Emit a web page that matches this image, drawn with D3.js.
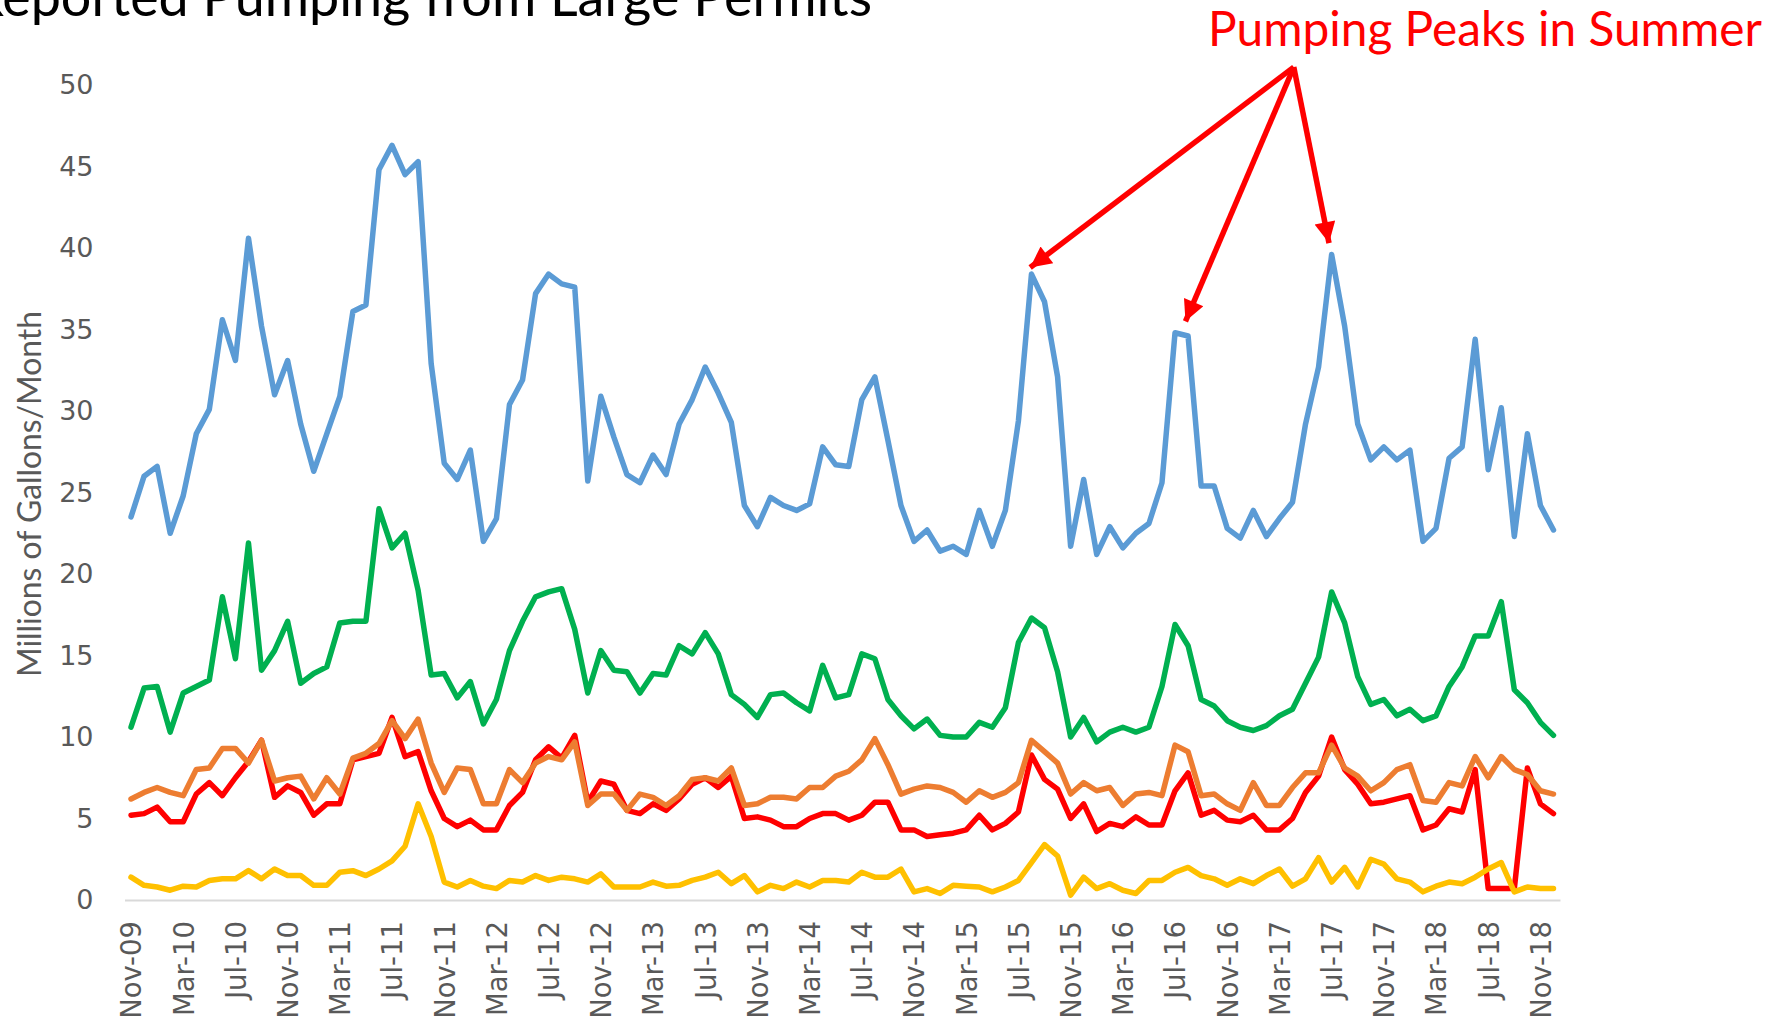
<!DOCTYPE html>
<html>
<head>
<meta charset="utf-8">
<script src="https://cdn.jsdelivr.net/npm/d3@7"></script>
<style>
  body { margin: 0; background: #fff; }
  svg { display: block; }
</style>
</head>
<body>
<svg id="chart" width="1775" height="1027"></svg>
<script>
// months Nov-09 .. Dec-18 (110 categories)
const months = d3.timeMonths(new Date(2009, 10, 1), new Date(2019, 0, 1));
const tickEvery = 4;
const yTicks = [0, 5, 10, 15, 20, 25, 30, 35, 40, 45, 50];

const blueSeries = [23.5,26.0,26.6,22.5,24.8,28.6,30.1,35.6,33.1,40.6,
  35.2,31.0,33.1,29.2,26.3,28.6,30.9,36.1,36.5,44.8,
  46.3,44.5,45.3,32.9,26.8,25.8,27.6,22.0,23.4,30.4,
  31.9,37.2,38.4,37.8,37.6,25.7,30.9,28.4,26.1,25.6,
  27.3,26.1,29.2,30.7,32.7,31.1,29.3,24.2,22.9,24.7,
  24.2,23.9,24.3,27.8,26.7,26.6,30.7,32.1,28.2,24.2,
  22.0,22.7,21.4,21.7,21.2,23.9,21.7,23.9,29.4,38.4,
  36.7,32.1,21.7,25.8,21.2,22.9,21.6,22.5,23.1,25.6,
  34.8,34.6,25.4,25.4,22.8,22.2,23.9,22.3,23.4,24.4,
  29.2,32.7,39.6,35.2,29.2,27.0,27.8,27.0,27.6,22.0,
  22.8,27.1,27.8,34.4,26.4,30.2,22.3,28.6,24.2,22.7];

const greenSeries = [10.6,13.0,13.1,10.3,12.7,13.1,13.5,18.6,14.8,21.9,
  14.1,15.3,17.1,13.3,13.9,14.3,17.0,17.1,17.1,24.0,
  21.6,22.5,19.0,13.8,13.9,12.4,13.4,10.8,12.3,15.3,
  17.1,18.6,18.9,19.1,16.6,12.7,15.3,14.1,14.0,12.7,
  13.9,13.8,15.6,15.1,16.4,15.1,12.6,12.0,11.2,12.6,
  12.7,12.1,11.6,14.4,12.4,12.6,15.1,14.8,12.3,11.3,
  10.5,11.1,10.1,10.0,10.0,10.9,10.6,11.8,15.8,17.3,
  16.7,14.0,10.0,11.2,9.7,10.3,10.6,10.3,10.6,13.1,
  16.9,15.6,12.3,11.9,11.0,10.6,10.4,10.7,11.3,11.7,
  13.3,14.9,18.9,17.0,13.7,12.0,12.3,11.3,11.7,11.0,
  11.3,13.1,14.3,16.2,16.2,18.3,12.9,12.1,10.9,10.1];

const redSeries = [5.2,5.3,5.7,4.8,4.8,6.5,7.2,6.4,7.5,8.5,
  9.8,6.3,7.0,6.6,5.2,5.9,5.9,8.6,8.8,9.0,
  11.2,8.8,9.1,6.7,5.0,4.5,4.9,4.3,4.3,5.8,
  6.6,8.6,9.4,8.7,10.1,6.0,7.3,7.1,5.5,5.3,
  5.9,5.5,6.2,7.1,7.5,6.9,7.6,5.0,5.1,4.9,
  4.5,4.5,5.0,5.3,5.3,4.9,5.2,6.0,6.0,4.3,
  4.3,3.9,4.0,4.1,4.3,5.2,4.3,4.7,5.4,8.9,
  7.4,6.8,5.0,5.9,4.2,4.7,4.5,5.1,4.6,4.6,
  6.7,7.8,5.2,5.5,4.9,4.8,5.2,4.3,4.3,5.0,
  6.6,7.6,10.0,8.0,7.1,5.9,6.0,6.2,6.4,4.3,
  4.6,5.6,5.4,8.0,0.7,0.7,0.7,8.1,5.9,5.3];

const orangeSeries = [6.2,6.6,6.9,6.6,6.4,8.0,8.1,9.3,9.3,8.4,
  9.8,7.3,7.5,7.6,6.2,7.5,6.5,8.7,9.0,9.6,
  11.0,9.9,11.1,8.4,6.6,8.1,8.0,5.9,5.9,8.0,
  7.2,8.4,8.8,8.6,9.7,5.8,6.5,6.5,5.5,6.5,
  6.3,5.8,6.4,7.4,7.5,7.3,8.1,5.8,5.9,6.3,
  6.3,6.2,6.9,6.9,7.6,7.9,8.6,9.9,8.3,6.5,
  6.8,7.0,6.9,6.6,6.0,6.7,6.3,6.6,7.2,9.8,
  9.1,8.4,6.5,7.2,6.7,6.9,5.8,6.5,6.6,6.4,
  9.5,9.1,6.4,6.5,5.9,5.5,7.2,5.8,5.8,6.9,
  7.8,7.8,9.5,8.1,7.6,6.7,7.2,8.0,8.3,6.1,
  6.0,7.2,7.0,8.8,7.5,8.8,8.0,7.7,6.7,6.5];

const yellowSeries = [1.4,0.9,0.8,0.6,0.85,0.8,1.2,1.3,1.3,1.8,
  1.3,1.9,1.5,1.5,0.9,0.9,1.7,1.8,1.5,1.9,
  2.4,3.3,5.9,3.9,1.1,0.8,1.2,0.85,0.7,1.2,
  1.1,1.5,1.2,1.4,1.3,1.1,1.6,0.8,0.8,0.8,
  1.1,0.85,0.9,1.2,1.4,1.7,1.0,1.5,0.5,0.9,
  0.7,1.1,0.8,1.2,1.2,1.1,1.7,1.4,1.4,1.9,
  0.5,0.7,0.4,0.9,0.85,0.8,0.5,0.8,1.2,2.3,
  3.4,2.7,0.3,1.4,0.7,1.0,0.6,0.4,1.2,1.2,
  1.7,2.0,1.5,1.3,0.9,1.3,1.0,1.5,1.9,0.85,
  1.3,2.6,1.1,2.0,0.8,2.5,2.2,1.3,1.1,0.5,
  0.85,1.1,1.0,1.4,1.9,2.3,0.5,0.8,0.7,0.7];

// annotation: apex and arrow targets in (month index, value)
const annoApex = {i: 89.1, v: 51.1};
const annoTargets = [{i: 68.9, v: 38.8}, {i: 80.8, v: 35.5}, {i: 91.8, v: 40.3}];

const series = [
  {name: "blue", values: blueSeries, color: "#5b9bd5"},
  {name: "green", values: greenSeries, color: "#00b050"},
  {name: "red", values: redSeries, color: "#ff0000"},
  {name: "orange", values: orangeSeries, color: "#ed7d31"},
  {name: "yellow", values: yellowSeries, color: "#ffc000"}
];

const svg = d3.select("#chart");
const plot = {left: 124.5, right: 1560, top: 85, bottom: 900};

const x = d3.scaleLinear().domain([-0.5, months.length - 0.5]).range([plot.left, plot.right]);
const y = d3.scaleLinear().domain([0, 50]).range([plot.bottom, plot.top]);
const fmt = d3.timeFormat("%b-%y");

// fit a text element to a pixel width
function fitWidth(sel, target) {
  const w = sel.node().getComputedTextLength();
  sel.attr("font-size", parseFloat(sel.attr("font-size")) * target / w);
}

// x axis
const xAxis = svg.append("g")
  .attr("transform", `translate(0,${plot.bottom})`)
  .call(d3.axisBottom(x)
    .tickValues(d3.range(0, months.length, tickEvery))
    .tickFormat(i => fmt(months[i]))
    .tickSize(0));
xAxis.select(".domain").attr("stroke", "#d9d9d9").attr("stroke-width", 2);
xAxis.selectAll("text")
  .attr("font-family", "DejaVu Sans")
  .attr("font-size", 27.5)
  .attr("fill", "#595959")
  .attr("text-anchor", "end")
  .attr("transform", "rotate(-90)")
  .attr("x", -21)
  .attr("y", 0)
  .attr("dy", "0.36em");

// y axis
const yAxis = svg.append("g")
  .attr("transform", `translate(${plot.left},0)`)
  .call(d3.axisLeft(y).tickValues(yTicks).tickSize(0).tickPadding(31));
yAxis.select(".domain").remove();
yAxis.selectAll("text")
  .attr("font-family", "DejaVu Sans")
  .attr("font-size", 27)
  .attr("fill", "#595959");

// y label
const yLabel = svg.append("text")
  .attr("transform", "translate(30,494) rotate(-90)")
  .attr("text-anchor", "middle")
  .attr("dy", "0.35em")
  .attr("font-family", "Lato")
  .attr("font-size", 30)
  .attr("fill", "#595959")
  .text("Millions of Gallons/Month");
fitWidth(yLabel, 366);

// lines
const line = d3.line()
  .x((d, i) => x(i))
  .y(d => y(d));

svg.append("g").selectAll("path")
  .data(series)
  .join("path")
  .attr("fill", "none")
  .attr("stroke", d => d.color)
  .attr("stroke-width", 5.5)
  .attr("stroke-linejoin", "round")
  .attr("stroke-linecap", "round")
  .attr("d", d => line(d.values));

// title (clipped at the top-left like the original)
const title = svg.append("text")
  .attr("x", 872)
  .attr("y", 16)
  .attr("text-anchor", "end")
  .attr("font-family", "Lato")
  .attr("font-size", 48)
  .attr("fill", "#000")
  .text("Reported Pumping from Large Permits");
{
  const node = title.node();
  const n = node.getNumberOfChars();
  const sub = node.getSubStringLength(1, n - 1);
  title.attr("font-size", 48 * 870 / sub);
}

// annotation
svg.append("defs").append("marker")
  .attr("id", "arrowhead")
  .attr("viewBox", "0 0 10 10")
  .attr("refX", 10)
  .attr("refY", 5)
  .attr("markerUnits", "userSpaceOnUse")
  .attr("markerWidth", 24)
  .attr("markerHeight", 21)
  .attr("orient", "auto")
  .append("path")
  .attr("d", "M0,0L10,5L0,10Z")
  .attr("fill", "#ff0000");

svg.append("g").selectAll("line")
  .data(annoTargets)
  .join("line")
  .attr("x1", x(annoApex.i))
  .attr("y1", y(annoApex.v))
  .attr("x2", d => x(d.i))
  .attr("y2", d => y(d.v))
  .attr("stroke", "#ff0000")
  .attr("stroke-width", 5.5)
  .attr("marker-end", "url(#arrowhead)");

const anno = svg.append("text")
  .attr("x", 1208)
  .attr("y", 46)
  .attr("font-family", "Lato")
  .attr("font-size", 40)
  .attr("fill", "#ff0000")
  .text("Pumping Peaks in Summer");
fitWidth(anno, 554);
</script>
</body>
</html>
